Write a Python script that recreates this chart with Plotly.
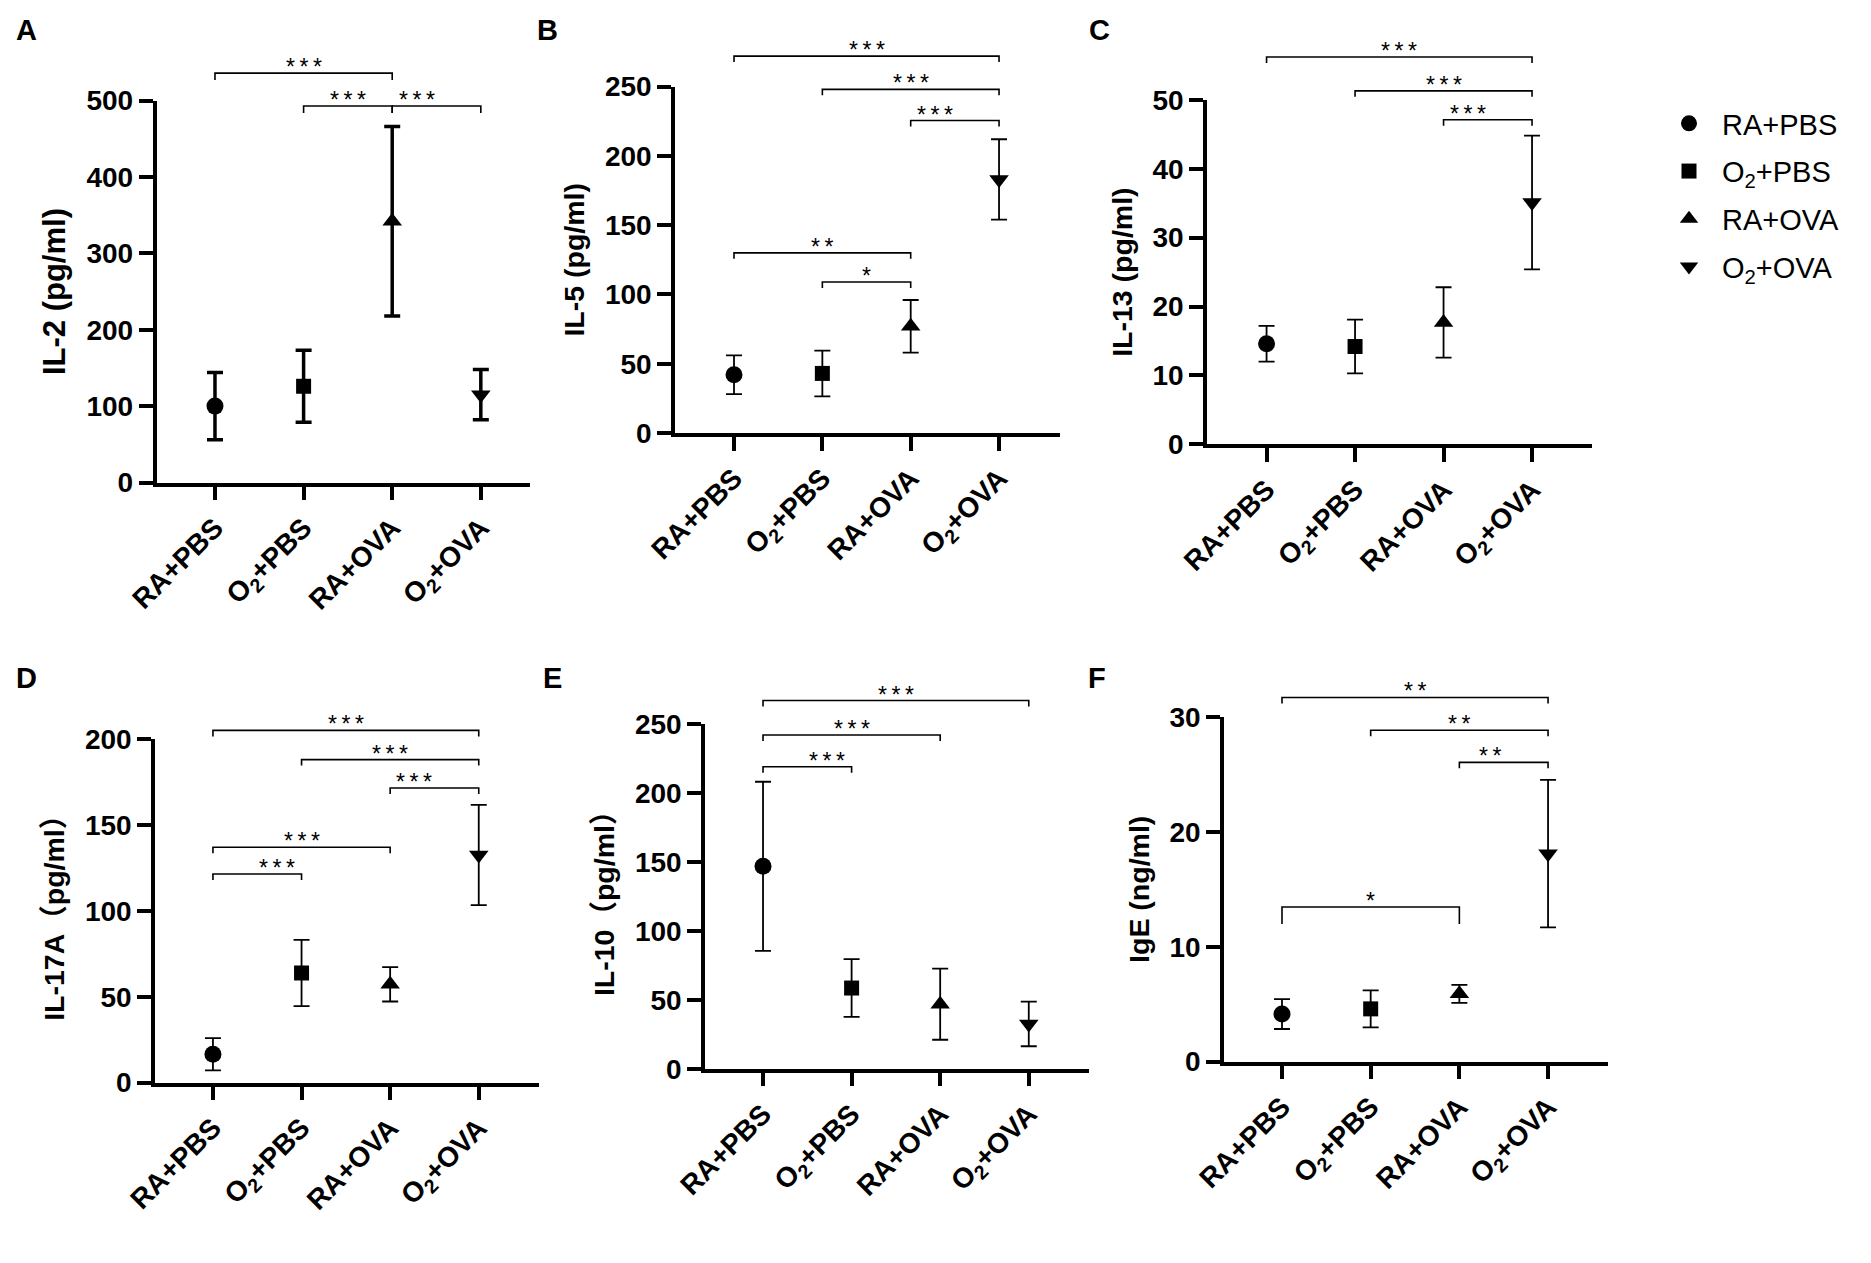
import plotly.graph_objects as go

# groups and marker symbols
groups = ["RA+PBS", "O<sub>2</sub>+PBS", "RA+OVA", "O<sub>2</sub>+OVA"]
symbols = ["circle", "square", "triangle-up", "triangle-down"]

# mean and SD
il2_mean = [100, 126, 342, 115]
il2_sd = [44, 47, 124, 33]
il5_mean = [42, 43, 77, 183]
il5_sd = [14, 16.5, 19, 29]
il13_mean = [14.6, 14.2, 17.7, 35.1]
il13_sd = [2.6, 3.9, 5.1, 9.7]
il17_mean = [16.5, 63.8, 57.2, 132.5]
il17_sd = [9.4, 19.3, 10, 29.2]
il10_mean = [146.8, 58.5, 46.8, 32.5]
il10_sd = [61.3, 20.9, 25.8, 16.2]
ige_mean = [4.14, 4.59, 5.9, 18.1]
ige_sd = [1.3, 1.61, 0.78, 6.42]

# significance brackets: (group i, group j, level, label)
il2_sig = [(0, 2, 536, "***"), (1, 2, 493, "***"), (2, 3, 493, "***")]
il5_sig = [(0, 3, 272, "***"), (1, 3, 248, "***"), (2, 3, 225.5, "***"),
           (0, 2, 130, "**"), (1, 2, 109, "*")]
il13_sig = [(0, 3, 56.2, "***"), (1, 3, 51.3, "***"), (2, 3, 47.1, "***")]
il17_sig = [(0, 3, 205, "***"), (1, 3, 188, "***"), (2, 3, 171.5, "***"),
            (0, 2, 137, "***"), (0, 1, 121.4, "***")]
il10_sig = [(0, 3, 267, "***"), (0, 2, 242, "***"), (0, 1, 219, "***")]
ige_sig = [(0, 3, 31.7, "**"), (1, 3, 28.85, "**"), (2, 3, 26.05, "**"),
           (0, 2, 13.46, "*")]

W, H = 1871, 1263
FONT = "Arial, 'Liberation Sans', 'Noto Sans CJK SC', sans-serif"

# pixel boxes of each plot area: x0, x1, ytop, ybottom
panels = [
    dict(letter="A", lx=6, ly=4, title="IL-2 (pg/ml)", tsize=31, mean=il2_mean, sd=il2_sd,
         ymax=500, dtick=100, sig=il2_sig, box=(148.5, 522, 92.6, 474.5),
         xr=(-0.66, 3.555), ew=3.5, drops=[7, 7, 7]),
    dict(letter="B", lx=527, ly=4, title="IL-5 (pg/ml)", tsize=28.5, mean=il5_mean, sd=il5_sd,
         ymax=250, dtick=50, sig=il5_sig, box=(667, 1052, 78.6, 425),
         xr=(-0.668, 3.69), ew=1.8, drops=[6] * 5),
    dict(letter="C", lx=1079, ly=4, title="IL-13 (pg/ml)", tsize=28.5, mean=il13_mean, sd=il13_sd,
         ymax=50, dtick=10, sig=il13_sig, box=(1199, 1583.6, 91.8, 436.4),
         xr=(-0.673, 3.673), ew=1.8, drops=[6] * 3),
    dict(letter="D", lx=6, ly=652, title="IL-17A（pg/ml）", tsize=28.5, mean=il17_mean, sd=il17_sd,
         ymax=200, dtick=50, sig=il17_sig, box=(147, 531, 731, 1074.6),
         xr=(-0.654, 3.68), ew=1.8, drops=[6] * 5),
    dict(letter="E", lx=533, ly=652, title="IL-10（pg/ml）", tsize=28.5, mean=il10_mean, sd=il10_sd,
         ymax=250, dtick=50, sig=il10_sig, box=(697, 1081, 716, 1060.7),
         xr=(-0.655, 3.68), ew=1.8, drops=[6] * 3),
    dict(letter="F", lx=1078, ly=652, title="IgE (ng/ml)", tsize=28.5, mean=ige_mean, sd=ige_sd,
         ymax=30, dtick=10, sig=ige_sig, box=(1216, 1600, 709, 1053.6),
         xr=(-0.654, 3.676), ew=1.8, drops=[6, 6, 6, 17]),
]

sizes = {"circle": 17, "square": 15, "triangle-up": 17, "triangle-down": 17}

fig = go.Figure()
shapes = []
annotations = []
layout = {}

for k, p in enumerate(panels):
    n = "" if k == 0 else str(k + 1)
    x0, x1, yt, yb = p["box"]
    for g in range(4):
        fig.add_trace(go.Scatter(
            x=[g], y=[p["mean"][g]],
            mode="markers",
            name=groups[g],
            legendgroup=groups[g],
            showlegend=(k == 0),
            marker=dict(symbol=symbols[g], size=sizes[symbols[g]], color="black"),
            error_y=dict(type="data", array=[p["sd"][g]], color="black",
                         thickness=p["ew"], width=8),
            xaxis="x" + n, yaxis="y" + n,
            cliponaxis=False,
        ))
    layout["xaxis" + n] = dict(
        domain=[x0 / W, x1 / W], anchor="y" + n, range=list(p["xr"]),
        tickvals=[0, 1, 2, 3], ticktext=groups, tickangle=-45,
        showline=True, linewidth=3.5, linecolor="black",
        ticks="outside", ticklen=14, tickwidth=3.5, tickcolor="black",
        showgrid=False, zeroline=False, automargin=False,
        tickfont=dict(family=FONT, size=28, color="black", weight="bold"),
    )
    layout["yaxis" + n] = dict(
        domain=[1 - yb / H, 1 - yt / H], anchor="x" + n,
        range=[0, p["ymax"]], dtick=p["dtick"],
        showline=True, linewidth=3.5, linecolor="black",
        ticks="outside", ticklen=14, tickwidth=3.5, tickcolor="black",
        showgrid=False, zeroline=False, automargin=False,
        tickfont=dict(family=FONT, size=28, color="black", weight="bold"),
        title=dict(text=p["title"], standoff=13,
                   font=dict(family=FONT, size=p["tsize"], color="black", weight="bold")),
    )
    # significance brackets, placed in domain units so they can sit above the axis
    xa, xb = p["xr"]
    span_px = yb - yt
    for (i, j, lev, lab), drop in zip(p["sig"], p["drops"]):
        fx_i = (i - xa) / (xb - xa)
        fx_j = (j - xa) / (xb - xa)
        fy = lev / p["ymax"]
        fd = drop / span_px
        ref = dict(xref="x" + n + " domain", yref="y" + n + " domain")
        shapes.append(dict(type="path", **ref,
                           path=f"M {fx_i} {fy - fd} L {fx_i} {fy} L {fx_j} {fy} L {fx_j} {fy - fd}",
                           line=dict(color="black", width=1.6)))
        annotations.append(dict(**ref, x=(fx_i + fx_j) / 2, y=fy, text="\u2009".join(lab),
                                showarrow=False, yanchor="bottom", yshift=-9,
                                font=dict(family=FONT, size=23, color="black")))
    annotations.append(dict(xref="paper", yref="paper", x=p["lx"] / W, y=1 - p["ly"] / H,
                            xanchor="left", yanchor="top", text=p["letter"], showarrow=False,
                            font=dict(family=FONT, size=29, color="black", weight="bold")))

fig.update_layout(
    width=W, height=H,
    margin=dict(l=0, r=0, t=0, b=0),
    paper_bgcolor="white", plot_bgcolor="white",
    template=None,
    shapes=shapes, annotations=annotations,
    legend=dict(x=1648 / W, y=1 - 90 / H, xanchor="left", yanchor="top",
                font=dict(family=FONT, size=29, color="black"),
                itemwidth=56, tracegroupgap=7, bgcolor="rgba(0,0,0,0)"),
    **layout,
)

fig.write_html("out.html")
